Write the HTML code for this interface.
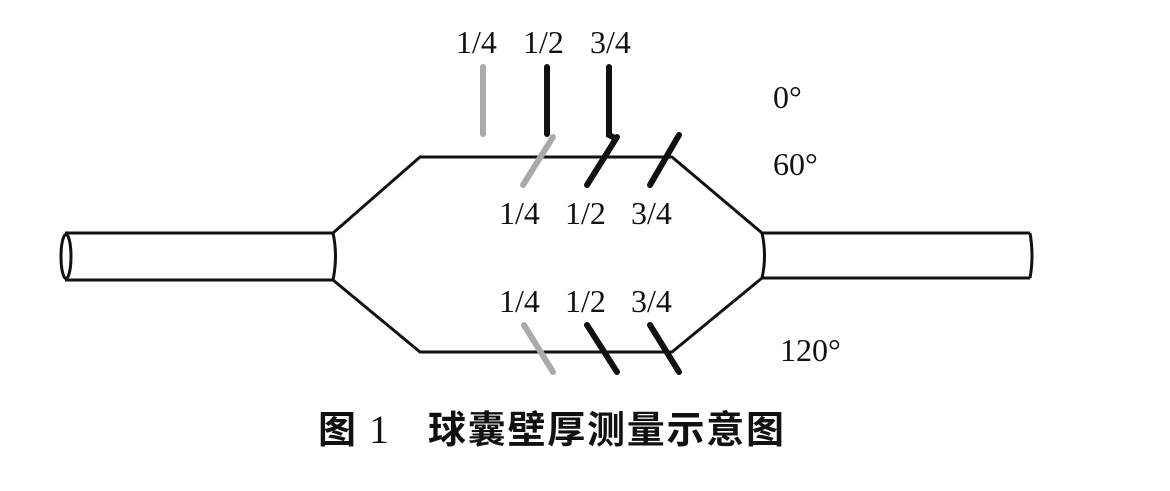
<!DOCTYPE html>
<html><head><meta charset="utf-8"><style>
html,body{margin:0;padding:0;background:#fff;}
svg{display:block;}
</style></head><body>
<svg width="1170" height="491" viewBox="0 0 1170 491" xmlns="http://www.w3.org/2000/svg">
<g fill="none" stroke="#111" stroke-width="3" stroke-linejoin="round">
  <line x1="65" y1="233" x2="333" y2="233"/>
  <line x1="65" y1="280" x2="333" y2="280"/>
  <ellipse cx="66" cy="256.5" rx="5" ry="22"/>
  <path d="M333 233 Q338 256 333 280"/>
  <path d="M333 233 L420 157 L672 157 L762 233 Q767 256 762 278 L672 352 L420 352 L333 280"/>
  <line x1="762" y1="233" x2="1030" y2="233"/>
  <line x1="762" y1="278" x2="1030" y2="278"/>
  <path d="M1030 233 Q1034 256 1030 278"/>
</g>
<g stroke-linecap="round" stroke-width="6" fill="none">
  <line x1="483" y1="67" x2="483" y2="134" stroke="#aaa"/>
  <line x1="547" y1="67" x2="547" y2="134" stroke="#111"/>
  <path d="M609 67 L609 135 L613 137" stroke="#111"/>
  <line x1="553" y1="137" x2="523" y2="185" stroke="#aaa"/>
  <line x1="617" y1="137" x2="587" y2="185" stroke="#111"/>
  <line x1="679" y1="135" x2="650" y2="185" stroke="#111"/>
  <line x1="524" y1="325" x2="553" y2="372" stroke="#aaa"/>
  <line x1="587" y1="325" x2="617" y2="372" stroke="#111"/>
  <line x1="650" y1="325" x2="679" y2="372" stroke="#111"/>
</g>
<g font-family="Liberation Serif, serif" font-size="32" fill="#111">
  <text x="456" y="53">1/4</text>
  <text x="523" y="53">1/2</text>
  <text x="590" y="53">3/4</text>
  <text x="773" y="108">0°</text>
  <text x="773" y="175">60°</text>
  <text x="499" y="224">1/4</text>
  <text x="565" y="224">1/2</text>
  <text x="631" y="224">3/4</text>
  <text x="499" y="312">1/4</text>
  <text x="565" y="312">1/2</text>
  <text x="631" y="312">3/4</text>
  <text x="780" y="361">120°</text>
</g>
<g font-family="Liberation Sans, 'Noto Sans CJK SC', sans-serif" font-size="38" font-weight="bold" fill="#111">
  <text x="318" y="443">图</text>
  <text x="369" y="443" font-family="Liberation Serif, serif" font-weight="normal" font-size="40">1</text>
  <text x="428" y="443" textLength="356" lengthAdjust="spacing">球囊壁厚测量示意图</text>
</g>
</svg>
</body></html>
